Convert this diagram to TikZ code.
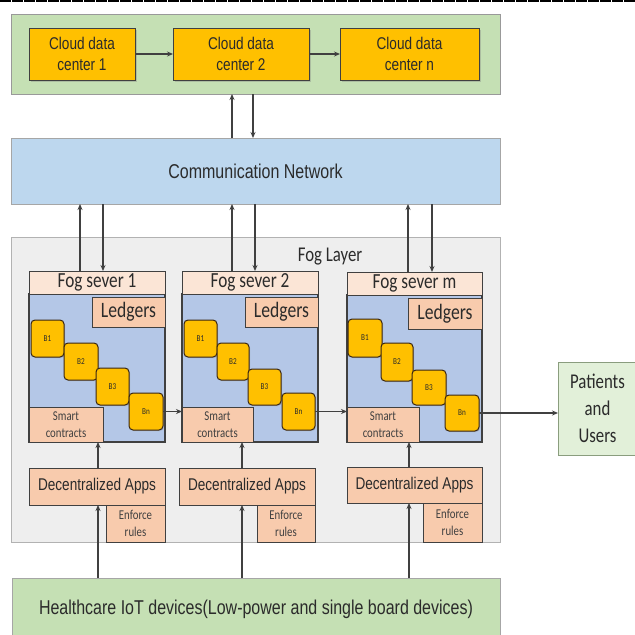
\documentclass[tikz,border=0pt]{standalone}
\usepackage{fontspec}
\setmainfont[FakeStretch=0.8]{Liberation Sans}
\newfontfamily\calfont[FakeStretch=0.8]{Carlito}
\usetikzlibrary{shadows,arrows.meta}
\definecolor{bandgreen}{HTML}{C5E0B4}
\definecolor{gold}{HTML}{FFC000}
\definecolor{commblue}{HTML}{BDD7EE}
\definecolor{foggray}{HTML}{EEEEEE}
\definecolor{peach}{HTML}{F8CBAD}
\definecolor{lightpeach}{HTML}{FBE5D6}
\definecolor{bodyblue}{HTML}{B4C7E7}
\definecolor{patgreen}{HTML}{E2F0D9}
\definecolor{edgec}{HTML}{404040}
\definecolor{txt}{HTML}{2B2B2B}
\newcommand\bx[7]{\node[#6, minimum width={(#4-#2)*1pt}, minimum height={(#5-#3)*1pt}] (#1) at ({(#2+#4)/2},{(#3+#5)/2}) {#7};}
\tikzset{
  basebox/.style={inner sep=0pt, outer sep=0pt, text=txt, align=center},
  bandbox/.style={basebox, fill=bandgreen, draw=black!40, line width=0.8pt},
  cloudbox/.style={basebox, fill=gold, draw=edgec, line width=1pt,
     drop shadow={shadow xshift=1.5pt, shadow yshift=-1.5pt, opacity=0.35},
     font=\fontsize{17}{21}\selectfont},
  commbox/.style={basebox, fill=commblue, draw=black!35, line width=0.8pt, font=\fontsize{20}{24}\selectfont},
  fogbox/.style={basebox, fill=foggray, draw=black!30, line width=0.8pt},
  headbox/.style={basebox, fill=lightpeach, draw=edgec, line width=1pt, font=\calfont\fontsize{21.5}{24}\selectfont},
  bodybox/.style={basebox, fill=bodyblue, draw=edgec, line width=1.2pt},
  ledgerbox/.style={basebox, fill=peach, draw=edgec, line width=1pt, font=\calfont\fontsize{22}{24}\selectfont},
  blkbox/.style={basebox, fill=gold, draw=black!70!brown, line width=1pt, rounded corners=4pt,
     drop shadow={shadow xshift=1pt, shadow yshift=-1pt, opacity=0.3},
     font=\calfont\fontsize{9}{10}\selectfont},
  smartbox/.style={basebox, fill=peach, draw=edgec, line width=1pt, font=\calfont\fontsize{13.5}{17}\selectfont, text=edgec},
  dappbox/.style={basebox, fill=peach, draw=edgec, line width=1pt, font=\fontsize{17}{20}\selectfont},
  patbox/.style={basebox, fill=patgreen, draw=black!30!bandgreen, line width=1pt, font=\calfont\fontsize{21}{27}\selectfont},
  hcbox/.style={basebox, fill=bandgreen, draw=black!35, line width=0.8pt, font=\fontsize{20}{24}\selectfont},
  arr/.style={draw=edgec, line width=1.1pt, -{Stealth[length=6pt,width=5pt]}},
}
\begin{document}
\begin{tikzpicture}[x=1pt,y=-1pt]
\useasboundingbox[fill=white] (0,0) rectangle (635,635);
\draw[line width=2pt, dash pattern=on 10.5pt off 1.5pt] (0,1) -- (635,1);
% cloud layer
\bx{band}{11}{14}{500}{94}{bandbox}{}
\bx{c1}{29}{28}{135}{80}{cloudbox}{Cloud data\\center 1}
\bx{c2}{173}{28}{309}{80}{cloudbox}{Cloud data\\center 2}
\bx{cn}{340}{28}{479}{80}{cloudbox}{Cloud data\\center n}
\draw[arr] (c1.east) -- (c2.west);
\draw[arr] (c2.east) -- (cn.west);
% communication
\bx{comm}{11}{138}{500}{204}{commbox}{Communication Network}
\draw[arr] (232,0 |- comm.north) -- (232,0 |- band.south);
\draw[arr] (253,0 |- band.south) -- (253,0 |- comm.north);
% fog layer
\bx{fog}{11}{237}{500}{542}{fogbox}{}
\node[basebox, font=\calfont\fontsize{21}{24}\selectfont] (foglabel) at (330,257) {Fog Layer};
% server 1
\bx{bd1}{29}{294}{165}{442}{bodybox}{}
\bx{h1}{29}{271}{165}{294}{headbox}{Fog sever 1}
\bx{l1}{92}{297}{165}{327}{ledgerbox}{Ledgers}
\bx{s1}{29}{407}{103}{442}{smartbox}{Smart\\contracts}
\bx{k11}{31}{320}{64}{357}{blkbox}{B1}
\bx{k12}{64}{343}{98}{380}{blkbox}{B2}
\bx{k13}{96}{368}{129}{405}{blkbox}{B3}
\bx{k1n}{129}{393}{163}{430}{blkbox}{Bn}
\bx{d1}{29}{468}{165}{505}{dappbox}{Decentralized Apps}
\bx{e1}{106}{505}{165}{542}{smartbox}{Enforce\\rules}
% server 2
\bx{bd2}{182}{294}{318}{442}{bodybox}{}
\bx{h2}{182}{271}{318}{294}{headbox}{Fog sever 2}
\bx{l2}{245}{297}{318}{327}{ledgerbox}{Ledgers}
\bx{s2}{182}{407}{253}{442}{smartbox}{Smart\\contracts}
\bx{k21}{184}{320}{217}{357}{blkbox}{B1}
\bx{k22}{217}{343}{249}{380}{blkbox}{B2}
\bx{k23}{248}{369}{281}{405}{blkbox}{B3}
\bx{k2n}{282}{393}{315}{430}{blkbox}{Bn}
\bx{d2}{179}{468}{315}{505}{dappbox}{Decentralized Apps}
\bx{e2}{257}{505}{315}{542}{smartbox}{Enforce\\rules}
% server m
\bx{bd3}{347}{295}{482}{442}{bodybox}{}
\bx{h3}{347}{272}{482}{295}{headbox}{Fog sever m}
\bx{l3}{408}{298}{482}{329}{ledgerbox}{Ledgers}
\bx{s3}{347}{407}{419}{442}{smartbox}{Smart\\contracts}
\bx{k31}{348}{319}{382}{357}{blkbox}{B1}
\bx{k32}{381}{343}{413}{381}{blkbox}{B2}
\bx{k33}{412}{370}{446}{405}{blkbox}{B3}
\bx{k3n}{445}{395}{479}{431}{blkbox}{Bn}
\bx{d3}{347}{467}{482}{503}{dappbox}{Decentralized Apps}
\bx{e3}{423}{503}{482}{542}{smartbox}{Enforce\\rules}
% patients and healthcare
\bx{pat}{558}{362}{637}{455}{patbox}{Patients\\and\\Users}
\bx{hc}{12}{578}{500}{640}{hcbox}{Healthcare IoT devices(Low-power and single board devices)}
% fog <-> comm
\draw[arr] (80,0 |- h1.north) -- (80,0 |- comm.south);
\draw[arr] (103,0 |- comm.south) -- (103,0 |- h1.north);
\draw[arr] (232,0 |- h2.north) -- (232,0 |- comm.south);
\draw[arr] (255,0 |- comm.south) -- (255,0 |- h2.north);
\draw[arr] (408,0 |- h3.north) -- (408,0 |- comm.south);
\draw[arr] (432,0 |- comm.south) -- (432,0 |- h3.north);
% dapps -> smart contracts
\draw[arr] (98,0 |- d1.north) -- (98,0 |- s1.south);
\draw[arr] (242,0 |- d2.north) -- (242,0 |- s2.south);
\draw[arr] (409,0 |- d3.north) -- (409,0 |- s3.south);
% healthcare -> dapps
\draw[arr] (98,0 |- hc.north) -- (98,0 |- d1.south);
\draw[arr] (242,0 |- hc.north) -- (242,0 |- d2.south);
\draw[arr] (409,0 |- hc.north) -- (409,0 |- d3.south);
% ledger chain
\draw[arr] (k1n.east) -- (k1n.east -| bd2.west);
\draw[arr] (k2n.east) -- (k2n.east -| bd3.west);
\draw[arr] (k3n.east) -- (k3n.east -| pat.west);
\end{tikzpicture}
\end{document}
